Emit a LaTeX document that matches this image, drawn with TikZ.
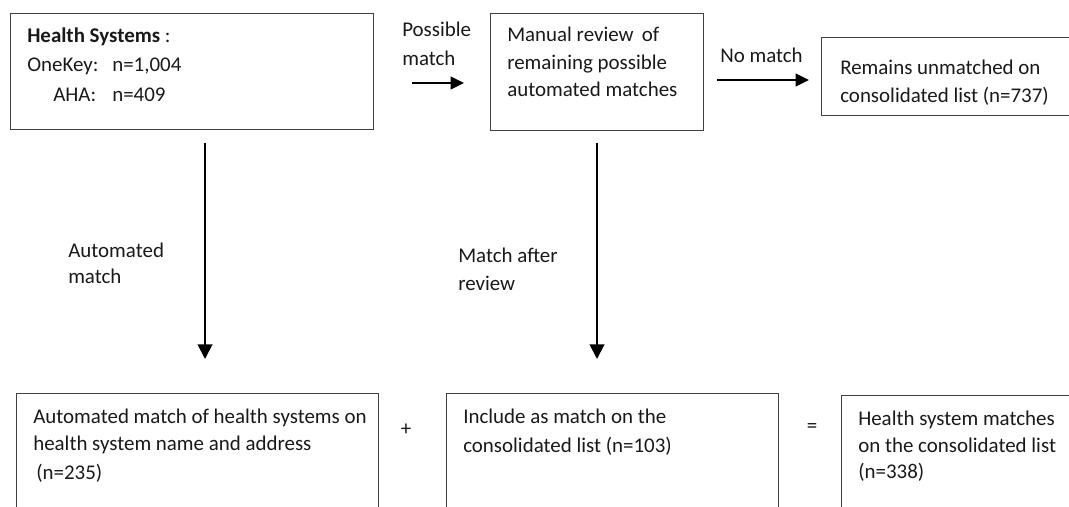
\documentclass[tikz,border=0pt]{standalone}
\usepackage{fontspec}
\setmainfont{Carlito}
\usetikzlibrary{arrows.meta}
\tikzset{
  box/.style={draw=black!75, line width=1.1pt, rectangle, inner sep=0pt, anchor=north west},
  txt/.style={anchor=base west, inner sep=0pt, text=black!90, font=\fontsize{15.7}{21}\selectfont},
  arr/.style={line width=1.5pt, -{Triangle[length=11pt,width=11pt]}},
  harr/.style={line width=1.5pt, -{Triangle[length=10pt,width=9.5pt]}}
}
\begin{document}
\begin{tikzpicture}[x=0.75pt,y=-0.75pt]
\useasboundingbox (0,0) rectangle (1069,506);
\clip (0,0) rectangle (1069,506);
% top boxes
\node[box, minimum width=363*0.75pt, minimum height=116*0.75pt] (hs) at (10,13) {};
\node[box, minimum width=213*0.75pt, minimum height=117*0.75pt] (mr) at (490,13) {};
\node[box, minimum width=260*0.75pt, minimum height=78*0.75pt] (ru) at (821,37) {};
% bottom boxes (cut by the page edge)
\node[box, minimum width=362*0.75pt, minimum height=140*0.75pt] (am) at (16,393) {};
\node[box, minimum width=332*0.75pt, minimum height=140*0.75pt] (im) at (446,393) {};
\node[box, minimum width=260*0.75pt, minimum height=140*0.75pt] (hm) at (841,395) {};
% texts
\node[txt] (t1a) at (27,43) {\textbf{Health Systems} :};
\node[txt] (t1b) at (27,72) {OneKey:};
\node[txt] (t1bv) at (112,72) {n=1,004};
\node[txt] (t1c) at (53,102) {AHA:};
\node[txt] (t1cv) at (112,102) {n=409};
\node[txt] (t2a) at (507,42) {Manual review\, of};
\node[txt] (t2b) at (507,70) {remaining possible};
\node[txt] (t2c) at (507,97) {automated matches};
\node[txt] (t3a) at (840,75) {Remains unmatched on};
\node[txt] (t3b) at (840,103) {consolidated list (n=737)};
\node[txt] (pm1) at (402,37) {Possible};
\node[txt] (pm2) at (402,66) {match};
\node[txt] (nm) at (720,63) {No match};
\node[txt] (am1) at (68,257) {Automated};
\node[txt] (am2) at (68,283) {match};
\node[txt] (ma1) at (458,262) {Match after};
\node[txt] (ma2) at (458,290) {review};
\node[txt] (b1a) at (33,423) {Automated match of health systems on};
\node[txt] (b1b) at (33,450) {health system name and address};
\node[txt] (b1c) at (36,479) {(n=235)};
\node[txt] (b2a) at (463,423) {Include as match on the};
\node[txt] (b2b) at (463,452) {consolidated list (n=103)};
\node[txt] (b3a) at (858,425) {Health system matches};
\node[txt] (b3b) at (858,452) {on the consolidated list};
\node[txt] (b3c) at (858,478) {(n=338)};
\node[txt, anchor=center] (plus) at (406,430) {+};
\node[txt, anchor=center] (eq) at (812,428) {=};
% connectors
\coordinate (a1s) at (205,143);
\coordinate (a1e) at (205,359);
\coordinate (a2s) at (597,143);
\coordinate (a2e) at (597,359);
\coordinate (hs1) at (412,83);
\coordinate (hs2) at (464,83);
\coordinate (nm1) at (717,80);
\coordinate (nm2) at (809,80);
\draw[arr] (a1s) -- (a1e);
\draw[arr] (a2s) -- (a2e);
\draw[harr] (hs1) -- (hs2);
\draw[harr] (nm1) -- (nm2);
\end{tikzpicture}
\end{document}
